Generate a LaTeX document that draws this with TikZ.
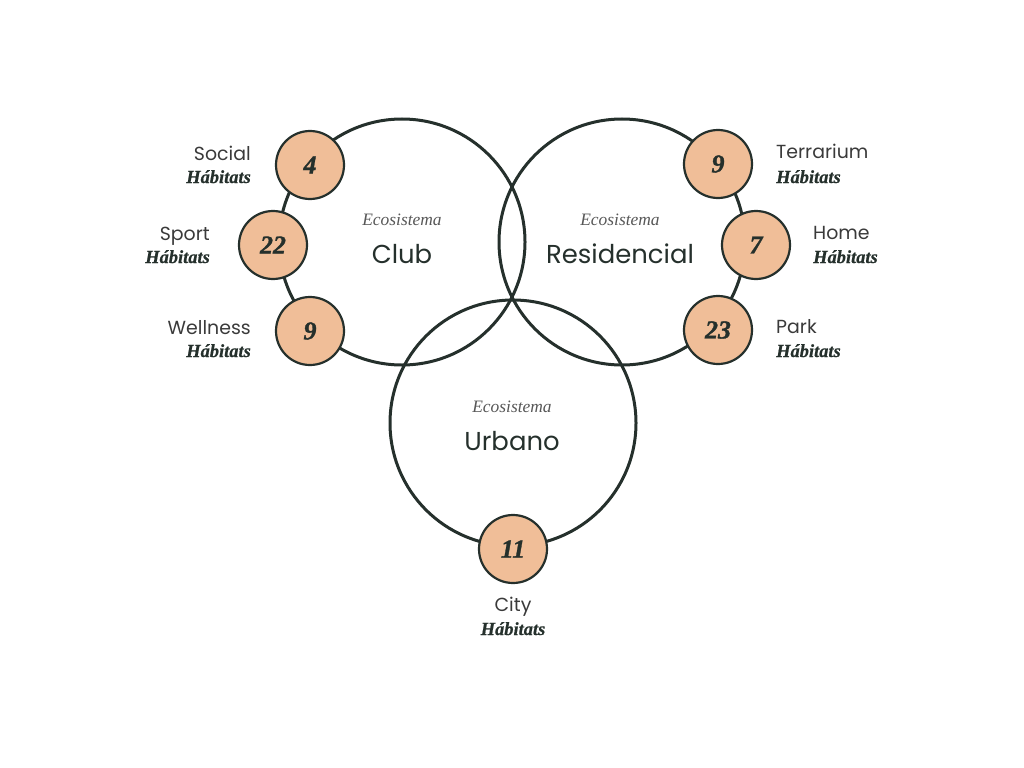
\documentclass[tikz,border=0pt]{standalone}
\usepackage{fontspec}
\newfontfamily\labfont{Poppins}
\newfontfamily\serfont{Liberation Serif}
\newfontface\numface{Liberation Serif Bold Italic}[FakeBold=1.2]
\newfontface\habface{Liberation Serif Bold Italic}[FakeBold=0.6]
\definecolor{ink}{HTML}{25302C}
\definecolor{peach}{HTML}{F0BE98}
\definecolor{soft}{HTML}{3A3A3A}
\tikzset{
  bigring/.style={draw=ink, line width=3bp},
  hab/.style={circle, draw=ink, line width=2.2bp, fill=peach, minimum size=68bp, inner sep=0pt,
    font=\numface\fontsize{26}{30}\selectfont, text=ink},
  lab/.style={font=\labfont\fontsize{19}{22}\selectfont, text=soft, inner sep=0pt},
  habtxt/.style={font=\habface\fontsize{18.5}{20}\selectfont, text=ink, inner sep=0pt},
  eco/.style={font=\serfont\itshape\fontsize{17.5}{20}\selectfont, text=soft!85, inner sep=0pt},
  econame/.style={font=\labfont\fontsize{26}{32}\selectfont, text=ink, inner sep=0pt}
}
\begin{document}
\begin{tikzpicture}[x=1bp, y=-1bp]
\useasboundingbox (0,0) rectangle (1024,768);
% big circles
\coordinate (cclub) at (402,242);
\coordinate (cres) at (622,242);
\coordinate (curb) at (513,423);
\draw[bigring] (cclub) circle[radius=123bp];
\draw[bigring] (cres) circle[radius=123bp];
\draw[bigring] (curb) circle[radius=123bp];
% ecosystem titles
\node[eco, anchor=base] (ecoclub) at (402,225) {Ecosistema};
\node[econame, anchor=base] (club) at (402,263) {Club};
\node[eco, anchor=base] (ecores) at (620,225) {Ecosistema};
\node[econame, anchor=base] (res) at (620,263) {Residencial};
\node[eco, anchor=base] (ecourb) at (512,412) {Ecosistema};
\node[econame, anchor=base] (urb) at (512,450) {Urbano};
% habitat counts
\node[hab] (social) at (310,165) {4};
\node[hab] (sport) at (273,245) {22};
\node[hab] (well) at (310,331) {9};
\node[hab] (terr) at (718,164) {9};
\node[hab] (home) at (756,245) {7};
\node[hab] (park) at (718,330) {23};
\node[hab] (city) at (513,549) {11};
% labels left
\node[lab, anchor=base east] (lsocial) at (251,160) {Social};
\node[habtxt, anchor=base east] (hsocial) at (251,183) {Hábitats};
\node[lab, anchor=base east] (lsport) at (210,240) {Sport};
\node[habtxt, anchor=base east] (hsport) at (210,263) {Hábitats};
\node[lab, anchor=base east] (lwell) at (251,334) {Wellness};
\node[habtxt, anchor=base east] (hwell) at (251,357) {Hábitats};
% labels right
\node[lab, anchor=base west] (lterr) at (776,158) {Terrarium};
\node[habtxt, anchor=base west] (hterr) at (776,183) {Hábitats};
\node[lab, anchor=base west] (lhome) at (813,239) {Home};
\node[habtxt, anchor=base west] (hhome) at (813,263) {Hábitats};
\node[lab, anchor=base west] (lpark) at (776,333) {Park};
\node[habtxt, anchor=base west] (hpark) at (776,357) {Hábitats};
% label bottom
\node[lab, anchor=base] (lcity) at (513,611) {City};
\node[habtxt, anchor=base] (hcity) at (513,635) {Hábitats};
\end{tikzpicture}
\end{document}
